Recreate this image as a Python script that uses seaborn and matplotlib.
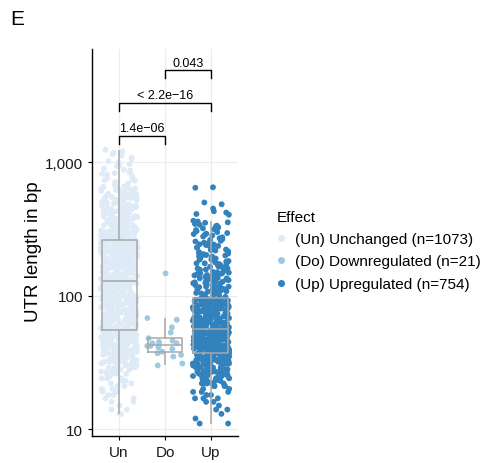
import numpy as np
import pandas as pd
import seaborn as sns
import matplotlib
matplotlib.use("Agg")
import matplotlib.pyplot as plt
from matplotlib.ticker import NullLocator

# ---------------- data ----------------
categories = ["Un", "Do", "Up"]
legend_labels = ["(Un) Unchanged (n=1073)", "(Do) Downregulated (n=21)", "(Up) Upregulated (n=754)"]
colors = ["#deebf7", "#9ecae1", "#3182bd"]

un_values = [
    13, 14, 14, 15, 16, 17, 17, 18, 19, 19,
    20, 21, 21, 22, 23, 23, 24, 24, 25, 26, 26, 26, 27, 27, 28, 28, 28, 29, 29, 29, 30, 30,
    31, 31, 32, 32, 32, 33, 33, 33, 34, 34, 34, 35, 35, 35, 35, 36, 36, 36, 37, 37,
    37, 38, 38, 38, 38, 39, 39, 39, 40, 40, 40, 40, 41, 41, 41, 42, 42, 42,
    43, 43, 43, 44, 44, 44, 44, 45, 45, 45, 45, 46, 46, 46, 46, 47, 47, 47, 47, 48,
    48, 48, 48, 49, 49, 49, 49, 50, 50, 50, 50, 51, 51, 51, 51, 52, 52, 52, 52, 53,
    53, 53, 53, 54, 54, 54, 54, 55, 55, 55,
    56, 56, 57, 57, 58, 58, 59, 59, 60, 60, 61, 61, 62, 62, 63, 63, 64, 64, 65, 65,
    66, 66, 67, 67, 68, 68, 69, 70, 70, 71, 71, 72, 72, 73, 73, 74, 74, 75,
    76, 76, 77, 78, 78, 79, 80, 80, 81, 82, 82, 83, 84, 84, 85, 86, 86, 87, 88, 88,
    89, 90, 90, 91, 92, 92, 93, 94, 94, 95, 95, 96, 96, 97, 97, 98, 98, 99, 99, 100, 100, 100,
    101, 101, 102, 103, 103, 104, 105, 105, 106, 107, 107, 108, 109, 110, 110, 111, 112, 112, 113, 114,
    114, 115, 116, 117, 117, 118, 119, 120, 120, 121, 122, 122, 123, 124, 124, 125, 126, 126, 127, 128,
    129, 131, 131, 133, 134, 136, 137, 137, 139, 141, 142, 142, 144, 145, 147, 148, 148, 150, 151, 152,
    153, 155, 156, 156, 158, 159, 160, 161, 161, 163, 164, 165, 166, 166, 168, 169, 170, 135, 146, 154,
    162, 157,
    171, 172, 174, 175, 176, 178, 179, 180, 182, 183, 184, 186, 187, 188, 190, 191, 192, 194, 195, 196,
    198, 199, 200, 201, 203, 204, 205, 207, 208, 209, 210, 212, 213, 214, 215, 177, 185, 193, 202, 211,
    216, 217, 219, 220, 222, 223, 225, 226, 228, 229, 230, 232, 233, 235, 236, 238, 239, 240, 242, 243,
    245, 246, 248, 249, 250, 252, 253, 255, 256, 258, 259, 221, 227, 234, 241, 247, 254, 231,
    261, 263, 265, 266, 268, 270, 272, 274, 276, 278, 280, 282, 284, 286, 288, 290, 292, 295, 297, 299,
    302, 304, 307, 309, 312, 314, 317, 320, 322, 325, 328, 331, 334, 337, 340, 343, 346, 349, 271, 293,
    352, 356, 360, 364, 368, 372, 377, 381, 386, 390, 395, 400, 405, 410, 415, 420, 426, 431, 437, 443,
    449, 455, 461, 468, 474, 481, 488, 495, 500, 366, 392, 418, 446, 471, 383, 358,
    508, 517, 526, 535, 545, 556, 566, 577, 588, 600, 612, 624, 637, 650, 664, 678, 692, 530, 571, 618,
    655, 540,
    712, 735, 760, 785, 812, 840, 870, 900, 935, 970, 998, 745, 830, 880,
    1020, 1060, 1090, 1120, 1150, 1180, 1210, 1245,
    # second batch of read-off points
    13, 16, 18, 20, 22, 24, 25, 26, 27, 28, 29, 30, 31, 32, 33, 34, 35, 36, 37, 38,
    39, 40, 41, 42, 43, 44, 45, 46, 47, 48, 49, 50, 51, 52, 53, 54, 55, 32, 36, 40,
    44, 48, 52, 34, 38, 42, 46, 50, 54, 31, 35, 39, 43, 47, 51, 27, 29, 33, 37, 41,
    45, 49, 53, 30, 36, 44, 50, 39, 47, 53, 42, 46, 38, 52, 55,
    57, 59, 61, 63, 65, 67, 69, 71, 73, 75, 77, 79, 81, 83, 85, 87, 89, 91, 93, 95,
    97, 99, 102, 104, 106, 108, 111, 113, 115, 118, 121, 123, 125, 127, 58, 62, 66, 70, 74, 78,
    82, 86, 90, 94, 98, 103, 109, 116, 119, 124, 60, 64, 68, 72, 76, 80, 84, 88, 92, 96,
    101, 105, 112, 117, 122, 126, 59, 66, 74, 83, 91, 99, 107, 114, 120,
    130, 133, 136, 139, 142, 145, 148, 151, 154, 157, 160, 163, 166, 169, 172, 175, 178, 181, 184, 187,
    190, 193, 196, 199, 202, 205, 208, 211, 214, 217, 220, 223, 226, 229, 232, 235, 238, 241, 244, 247,
    250, 253, 256, 132, 140, 150, 158, 167, 176, 185, 194, 204, 213, 222, 231, 240, 249, 257, 138, 155,
    171, 189, 206, 224, 243, 143, 162, 181, 200, 219, 237, 254, 147, 198, 233,
    262, 267, 273, 279, 285, 291, 298, 305, 311, 318, 326, 333, 341, 349, 357, 366, 375, 384, 393, 403,
    413, 423, 434, 445, 456, 468, 480, 493, 506, 520, 535, 550, 566, 583, 600, 620, 640, 265, 276, 289,
    301, 315, 330, 345, 362, 380, 398, 418, 440, 462, 485, 510, 545, 580, 270, 295, 322, 352, 388, 425,
    470, 525, 590, 660, 730, 820, 950, 282, 308, 338, 372, 410, 452, 498, 560,
]

do_values = [147, 68, 66, 58, 53, 48, 46, 45, 44, 44, 43, 42, 42, 41, 40, 38, 37, 36, 35, 31, 30]

up_values = [
    11, 11, 12, 13, 14, 15,
    16, 16, 17, 17, 18, 18, 19, 19, 20, 20,
    21, 21, 21, 22, 22, 22, 23, 23, 23, 24, 24, 24, 25, 25, 25, 25, 26, 26, 26, 26, 27, 27, 27, 27,
    28, 28, 28, 28, 28, 29, 29, 29, 29, 29, 30, 30, 30, 30, 30, 30, 31, 31, 31, 31, 31,
    32, 32, 32, 32, 32, 32, 33, 33, 33, 33, 33, 33, 34, 34, 34, 34, 34, 34,
    35, 35, 35, 35, 35, 35, 36, 36, 36, 36, 36, 36, 37, 37, 37, 37,
    38, 38, 38, 38, 38, 38, 39, 39, 39, 39, 39, 39, 40, 40, 40, 40, 40, 40,
    41, 41, 41, 41, 41, 41, 42, 42, 42, 42, 42, 42, 43, 43, 43, 43, 43, 44, 44, 44, 44, 44,
    45, 45, 45, 45, 45,
    46, 46, 46, 46, 46, 47, 47, 47, 47, 47, 48, 48, 48, 48, 48, 49, 49, 49, 49, 49,
    50, 50, 50, 50, 50, 51, 51, 51, 51, 52, 52, 52, 52, 53, 53, 53, 53, 54, 54, 54, 54,
    55, 55, 55, 55, 56, 56, 56, 56, 56,
    57, 57, 57, 58, 58, 58, 59, 59, 59, 60, 60, 60, 61, 61, 61, 62, 62, 62, 63, 63, 63,
    64, 64, 64, 65, 65, 65, 66, 66, 66, 67, 67, 67, 68, 68, 68, 69, 70,
    71, 72, 72, 73, 74, 74, 75, 76, 76, 77, 78, 78, 79, 80, 80, 81, 82, 82, 83, 84,
    84, 85, 85, 73, 75, 77, 79, 81, 83, 71, 76, 80,
    86, 86, 87, 87, 88, 88, 89, 89, 90, 90, 91, 91, 92, 92, 93, 93, 94, 94, 95, 95, 96, 96, 87, 90, 93,
    98, 100, 102, 104, 105, 107, 109, 110, 112, 114, 115, 117, 119, 120, 122, 124, 125, 127, 129, 130,
    132, 134, 135, 137, 139, 140, 142, 144, 145, 147, 149, 150, 101, 108, 116, 123, 131, 138, 146, 113,
    121, 136,
    153, 157, 161, 165, 169, 173, 178, 182, 187, 192, 197, 202, 207, 212, 218, 224, 230, 236, 242, 248,
    160, 175, 190, 205, 220, 240, 170, 200,
    255, 262, 270, 278, 286, 295, 305, 315, 325, 335, 345, 355, 365, 290,
    650, 645, 500, 485, 450, 430, 420, 410, 405,
    # second batch of read-off points
    14, 17, 19, 21, 22, 23, 24, 25, 26, 27, 28, 29, 30, 31, 32, 33, 34, 35, 36, 37,
    25, 27, 29, 31, 33, 35, 36, 28, 30, 32, 34, 36, 26, 29, 31, 33, 35, 37, 24, 30,
    32, 34, 28, 33, 36, 22, 27, 31, 35, 37,
    38, 39, 40, 41, 42, 43, 44, 45, 46, 47, 48, 49, 50, 51, 52, 53, 54, 55, 56, 38,
    40, 42, 44, 46, 48, 50, 52, 54, 56, 39, 41, 43, 45, 47, 49, 51, 53, 55, 39, 43,
    47, 51, 55, 41, 45, 49, 53, 40, 46, 52,
    57, 59, 61, 63, 65, 67, 69, 71, 73, 75, 77, 79, 81, 83, 85, 87, 89, 91, 93, 95,
    58, 60, 62, 64, 66, 68, 70, 72, 74, 78, 82, 86, 90, 94, 96, 60, 65, 70, 76, 84,
    62, 67, 73, 80, 88, 58, 64, 71, 79, 92,
    98, 104, 110, 117, 124, 131, 139, 147, 156, 165, 175, 186, 197, 209, 222, 236, 250, 266, 283, 300,
    320, 340, 360, 101, 107, 114, 121, 128, 135, 143, 151, 160, 170, 180, 191, 203, 215, 229, 243, 258,
    274, 292, 311, 332, 352, 112, 126, 141, 158, 178,
]

y_ticks = [10, 100, 1000]
y_tick_labels = ["10", "100", "1,000"]
comparisons = [("Un", "Do", "1.4e\u221206"), ("Un", "Up", "< 2.2e\u221216"), ("Do", "Up", "0.043")]
legend_title = "Effect"
y_label = "UTR length in bp"
panel_label = "E"

# ---------------- frame ----------------
df = pd.DataFrame({
    "cat": (["Un"] * len(un_values)) + (["Do"] * len(do_values)) + (["Up"] * len(up_values)),
    "val": un_values + do_values + up_values,
})
label_map = dict(zip(categories, legend_labels))
df["label"] = df["cat"].map(label_map)

plt.rcParams["font.family"] = ["Liberation Sans", "DejaVu Sans"]

fig = plt.figure(figsize=(4.92, 4.64), dpi=100)
ax = fig.add_axes([92 / 492, 1 - 437 / 464, (238 - 92) / 492, (437 - 50) / 464])

np.random.seed(3)
sns.stripplot(data=df, x="cat", y="val", hue="label", order=categories,
              hue_order=legend_labels, palette=colors, jitter=0.4, size=4.2,
              linewidth=0, log_scale=True, ax=ax, zorder=1, legend=True)

sns.boxplot(data=df, x="cat", y="val", order=categories, log_scale=True,
            fill=False, color="#a8a8a8", linecolor="#a8a8a8", width=0.76,
            showfliers=False, showcaps=False, whis=1.5, linewidth=1.1,
            ax=ax, zorder=3)

# axes styling
ax.set_xlim(-0.59, 2.59)
ax.set_ylim(10 ** 0.948, 10 ** 3.85)
ax.set_yticks(y_ticks)
ax.set_yticklabels(y_tick_labels)
ax.yaxis.set_minor_locator(NullLocator())
ax.set_xlabel("")
ax.set_ylabel(y_label, fontsize=13.5, color="#000000")
ax.yaxis.set_label_coords(-0.34, 0.48)
for s in ["top", "right"]:
    ax.spines[s].set_visible(False)
for s in ["left", "bottom"]:
    ax.spines[s].set_color("black")
    ax.spines[s].set_linewidth(1.0)
ax.tick_params(axis="both", labelsize=11, colors="black", length=3, width=0.8,
               labelcolor="#1a1a1a")
ax.grid(True, color="#ececec", linewidth=0.8)
ax.set_axisbelow(True)
ax.set_facecolor("white")

# significance brackets
pos = {c: i for i, c in enumerate(categories)}
bracket_tops = [10 ** 3.20, 10 ** 3.446, 10 ** 3.691]
tick_drop = 10 ** -0.062
for (a, b, txt), yt in zip(comparisons, bracket_tops):
    x1, x2 = pos[a], pos[b]
    ax.plot([x1, x1, x2, x2], [yt * tick_drop, yt, yt, yt * tick_drop],
            color="black", linewidth=1.0, clip_on=False, zorder=4)
    ax.text((x1 + x2) / 2, yt * 1.025, txt, ha="center", va="bottom",
            fontsize=9, color="black")

# legend
handles, labels = ax.get_legend_handles_labels()
ax.legend(handles, labels, title=legend_title, loc="upper left",
          bbox_to_anchor=(269 / 492, 1 - 203 / 464), bbox_transform=fig.transFigure,
          frameon=False, fontsize=11, title_fontsize=11, alignment="left",
          handlelength=0.6, handletextpad=0.6, labelspacing=0.55, borderpad=0,
          markerscale=1.2)

fig.text(10 / 492, 1 - 10 / 464, panel_label, fontsize=15, va="top", ha="left")

fig.savefig("out.png", dpi=100)
